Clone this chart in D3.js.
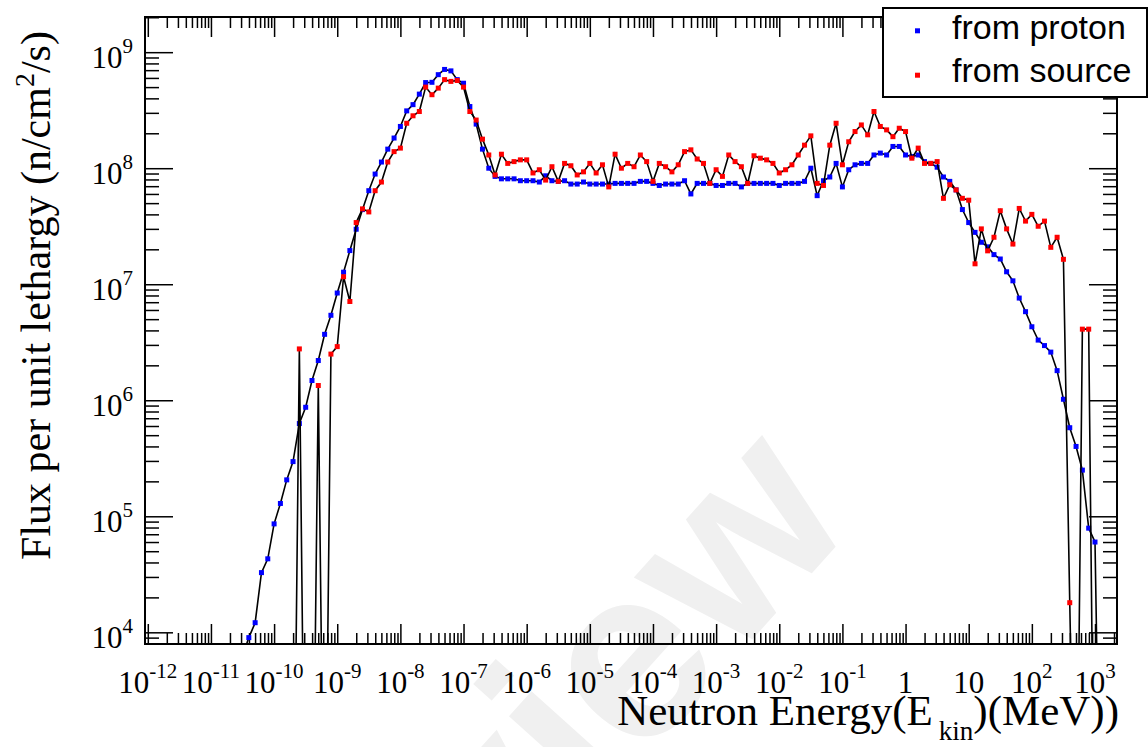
<!DOCTYPE html>
<html>
<head>
<meta charset="utf-8">
<script src="https://cdn.jsdelivr.net/npm/d3@7"></script>
<style>
  html, body { margin: 0; padding: 0; background: #fff; }
  svg { display: block; }
</style>
</head>
<body>
<div id="chart"></div>
<script>
// Neutron flux per unit lethargy, two sources, 10 bins per decade

// log10(E/MeV) of the first bin of each set, and the bin step
const protonLogStart = -10.5;
const sourceLogStart = -9.7;
const logStep = 0.1;

// from proton (blue), -10.5 ... 3.1
const fromProton = [
  6.3e3, 9.0e3, 1.21e4, 3.27e4, 4.3e4, 8.6e4, 1.29e5, 2.06e5, 2.96e5, 6.3e5,
  8.7e5, 1.48e6, 2.2e6, 3.7e6, 5.4e6, 8.4e6, 1.27e7, 1.95e7, 2.98e7, 4.4e7,
  6.4e7, 8.9e7, 1.13e8, 1.46e8, 1.82e8, 2.29e8, 3.12e8, 3.53e8, 4.35e8, 5.47e8,
  5.5e8, 6.4e8, 7.1e8, 6.9e8, 5.8e8, 5.4e8, 3.4e8, 2.4e8, 1.46e8, 1.0e8,
  8.5e7, 8.1e7, 8.1e7, 8.1e7, 7.8e7, 7.8e7, 7.8e7, 7.6e7, 8.6e7, 7.8e7,
  7.7e7, 7.8e7, 7.3e7, 7.3e7, 7.6e7, 7.3e7, 7.3e7, 7.3e7, 7.3e7, 7.4e7,
  7.4e7, 7.4e7, 7.4e7, 7.7e7, 7.7e7, 7.4e7, 7.1e7, 7.3e7, 7.3e7, 7.3e7,
  7.8e7, 6.0e7, 7.4e7, 7.4e7, 7.4e7, 7.1e7, 7.1e7, 7.4e7, 7.4e7, 6.9e7,
  7.4e7, 7.4e7, 7.4e7, 7.4e7, 7.4e7, 7.1e7, 7.4e7, 7.4e7, 7.4e7, 7.7e7,
  1.0e8, 5.8e7, 7.8e7, 8.4e7, 1.1e8, 6.9e7, 9.7e7, 1.07e8, 1.1e8, 1.1e8,
  1.3e8, 1.35e8, 1.3e8, 1.54e8, 1.54e8, 1.3e8, 1.26e8, 1.3e8, 1.14e8, 1.1e8,
  1.02e8, 8.4e7, 7.7e7, 6.5e7, 4.4e7, 3.4e7, 2.8e7, 2.3e7, 2.1e7, 1.8e7,
  1.65e7, 1.28e7, 1.07e7, 7.6e6, 5.8e6, 4.3e6, 3.3e6, 2.96e6, 2.6e6, 1.8e6,
  1.02e6, 5.8e5, 4.0e5, 2.5e5, 7.9e4, 6.0e4, 0
];

// from source (red), -9.7 ... 3.0
const fromSource = [
  0, 2.77e6, 0, 0, 1.34e6, 0, 2.5e6, 2.9e6, 1.16e7, 7.1e6,
  3.4e7, 4.46e7, 4.2e7, 6.4e7, 7.6e7, 1.13e8, 1.39e8, 1.49e8, 2.44e8, 2.83e8,
  3.08e8, 5.0e8, 4.3e8, 4.9e8, 5.8e8, 5.6e8, 5.7e8, 5.0e8, 3.08e8, 2.6e8,
  1.78e8, 1.3e8, 8.75e7, 1.32e8, 1.1e8, 1.14e8, 1.18e8, 1.18e8, 9.1e7, 9.7e7,
  7.9e7, 1.03e8, 7.7e7, 1.1e8, 1.05e8, 8.75e7, 9.3e7, 1.1e8, 9.1e7, 1.07e8,
  6.9e7, 1.32e8, 1.0e8, 1.1e8, 1.03e8, 1.3e8, 1.14e8, 7.7e7, 1.1e8, 1.03e8,
  9.3e7, 1.07e8, 1.39e8, 1.44e8, 1.2e8, 1.1e8, 7.4e7, 9.7e7, 8.5e7, 1.3e8,
  1.14e8, 1.03e8, 7.4e7, 1.28e8, 1.22e8, 1.18e8, 1.1e8, 9.1e7, 9.7e7, 1.07e8,
  1.3e8, 1.58e8, 1.9e8, 7.4e7, 7.1e7, 1.58e8, 2.44e8, 1.07e8, 1.69e8, 2.07e8,
  2.36e8, 1.94e8, 3.08e8, 2.29e8, 2.14e8, 1.87e8, 2.21e8, 2.07e8, 1.22e8, 1.49e8,
  1.1e8, 1.1e8, 1.14e8, 5.5e7, 7.2e7, 6.5e7, 5.5e7, 5.3e7, 1.5e7, 3.0e7,
  1.94e7, 2.54e7, 4.3e7, 3.0e7, 2.22e7, 4.5e7, 3.5e7, 4.0e7, 3.16e7, 3.5e7,
  2.08e7, 2.54e7, 1.64e7, 1.8e4, 0, 4.1e6, 4.1e6, 0
];

const seriesNames = ["from proton", "from source"];
const seriesColors = ["#0000ff", "#ff0000"];

// axis decades
const xTickExps = [-12, -11, -10, -9, -8, -7, -6, -5, -4, -3, -2, -1, 0, 1, 2, 3];
const yTickExps = [4, 5, 6, 7, 8, 9];

const xTitle = "Neutron Energy(E";
const xTitleSub = "kin";
const xTitleEnd = ")(MeV))";
const yTitle = "Flux per unit lethargy (n/cm";
const yTitleSup = "2";
const yTitleEnd = "/s)";

function drawChart() {
  const W = 1148, H = 747;
  const frame = { left: 145, top: 17, right: 1117, bottom: 644 };
  const serif = '"Liberation Serif", "Times New Roman", serif';
  const sans = '"Liberation Sans", Arial, sans-serif';
  const zeroFloor = 30; // empty bins fall off the bottom of the log axis

  const x = d3.scaleLog().domain([9.03e-13, 2.23e3]).range([frame.left, frame.right]);
  const y = d3.scaleLog().domain([7.93e3, 2.01e9]).range([frame.bottom, frame.top]);

  const svg = d3.select("#chart").append("svg")
    .attr("width", W)
    .attr("height", H)
    .attr("viewBox", [0, 0, W, H]);

  svg.append("rect").attr("width", W).attr("height", H).attr("fill", "#fff");

  // faint watermark behind everything
  svg.append("text")
    .attr("transform", "translate(858,522) rotate(-48)")
    .attr("text-anchor", "end")
    .attr("font-family", sans)
    .attr("font-weight", "bold")
    .attr("font-size", 245)
    .attr("fill", "#f0f0f0")
    .text("Preview");

  svg.append("clipPath").attr("id", "plot-clip")
    .append("rect")
    .attr("x", frame.left).attr("y", frame.top)
    .attr("width", frame.right - frame.left)
    .attr("height", frame.bottom - frame.top);

  // minor ticks 2..9 inside the domain
  function minorTicks(scale, exps) {
    const [lo, hi] = scale.domain();
    const out = [];
    exps.forEach(e => {
      for (let m = 2; m <= 9; m++) {
        const v = m * Math.pow(10, e);
        if (v >= lo && v <= hi) out.push(v);
      }
    });
    return out;
  }
  const xMajor = xTickExps.map(e => Math.pow(10, e));
  const yMajor = yTickExps.map(e => Math.pow(10, e));
  const xMinor = minorTicks(x, d3.range(-13, 4));
  const yMinor = minorTicks(y, d3.range(3, 10));

  function addAxis(axisFn, scale, values, size, transform) {
    svg.append("g")
      .attr("transform", transform)
      .call(axisFn(scale).tickValues(values).tickSize(size).tickFormat(""))
      .call(g => g.select(".domain").remove())
      .call(g => g.selectAll("text").remove())
      .selectAll("line")
      .attr("stroke", "#000")
      .attr("stroke-width", 1.5);
  }
  addAxis(d3.axisBottom, x, xMajor, -20, `translate(0,${frame.bottom})`);
  addAxis(d3.axisBottom, x, xMinor, -11, `translate(0,${frame.bottom})`);
  addAxis(d3.axisTop, x, xMajor, -20, `translate(0,${frame.top})`);
  addAxis(d3.axisTop, x, xMinor, -11, `translate(0,${frame.top})`);
  addAxis(d3.axisLeft, y, yMajor, -28, `translate(${frame.left},0)`);
  addAxis(d3.axisLeft, y, yMinor, -14, `translate(${frame.left},0)`);
  addAxis(d3.axisRight, y, yMajor, -28, `translate(${frame.right},0)`);
  addAxis(d3.axisRight, y, yMinor, -14, `translate(${frame.right},0)`);

  // tick labels
  const xLab = svg.append("g").attr("font-family", serif).attr("font-size", 31).attr("fill", "#000");
  xTickExps.forEach(e => {
    const t = xLab.append("text")
      .attr("x", x(Math.pow(10, e)))
      .attr("y", frame.bottom + 49)
      .attr("text-anchor", "middle");
    if (e === 0) t.text("1");
    else if (e === 1) t.text("10");
    else {
      t.append("tspan").text("10");
      t.append("tspan").attr("font-size", 21).attr("dy", -15).text(e);
    }
  });

  const yLab = svg.append("g").attr("font-family", serif).attr("font-size", 31).attr("fill", "#000");
  yTickExps.forEach(e => {
    const t = yLab.append("text")
      .attr("x", frame.left - 12)
      .attr("y", y(Math.pow(10, e)) + 16)
      .attr("text-anchor", "end");
    t.append("tspan").text("10");
    t.append("tspan").attr("font-size", 21).attr("dy", -15).text(e);
  });

  // axis titles
  const xt = svg.append("text")
    .attr("x", frame.right + 2)
    .attr("y", 725)
    .attr("text-anchor", "end")
    .attr("font-family", serif)
    .attr("font-size", 43);
  xt.append("tspan").text(xTitle);
  xt.append("tspan").attr("font-size", 27).attr("dx", 6).attr("dy", 15).text(xTitleSub);
  xt.append("tspan").attr("dy", -15).text(xTitleEnd);

  const yt = svg.append("text")
    .attr("transform", `translate(50,${(frame.top + frame.bottom) / 2 - 35}) rotate(-90)`)
    .attr("text-anchor", "middle")
    .attr("font-family", serif)
    .attr("font-size", 42);
  yt.append("tspan").text(yTitle);
  yt.append("tspan").attr("font-size", 28).attr("dy", -16).text(yTitleSup);
  yt.append("tspan").attr("dy", 16).text(yTitleEnd);

  // data
  const series = [fromProton, fromSource].map((values, i) => {
    const start = i === 0 ? protonLogStart : sourceLogStart;
    return {
      name: seriesNames[i],
      color: seriesColors[i],
      points: values.map((v, k) => ({ e: Math.pow(10, start + k * logStep), v }))
    };
  });

  const yv = d => y(d.v > 0 ? d.v : zeroFloor);
  const line = d3.line().x(d => x(d.e)).y(yv);

  const plot = svg.append("g").attr("clip-path", "url(#plot-clip)");
  const ms = 5;
  series.forEach(s => {
    plot.append("path")
      .datum(s.points)
      .attr("fill", "none")
      .attr("stroke", "#000")
      .attr("stroke-width", 1.6)
      .attr("stroke-linejoin", "miter")
      .attr("d", line);
    plot.append("g")
      .selectAll("rect")
      .data(s.points.filter(d => d.v > 0))
      .join("rect")
      .attr("x", d => x(d.e) - ms / 2)
      .attr("y", d => yv(d) - ms / 2)
      .attr("width", ms)
      .attr("height", ms)
      .attr("fill", s.color);
  });

  // frame
  svg.append("rect")
    .attr("x", frame.left).attr("y", frame.top)
    .attr("width", frame.right - frame.left)
    .attr("height", frame.bottom - frame.top)
    .attr("fill", "none")
    .attr("stroke", "#000")
    .attr("stroke-width", 2);

  // legend
  const legend = svg.append("g");
  legend.append("rect")
    .attr("x", 883).attr("y", 8)
    .attr("width", 264).attr("height", 89)
    .attr("fill", "#fff")
    .attr("stroke", "#000")
    .attr("stroke-width", 2);
  series.forEach((s, i) => {
    legend.append("rect")
      .attr("x", 915).attr("y", 28.3 + i * 44.4)
      .attr("width", 5).attr("height", 5)
      .attr("fill", s.color);
    legend.append("text")
      .attr("x", 952).attr("y", 39.3 + i * 42.4)
      .attr("font-family", sans)
      .attr("font-size", 34)
      .text(s.name);
  });
}

if (document.readyState === 'loading') {
  document.addEventListener('DOMContentLoaded', drawChart);
} else {
  drawChart();
}
</script>
</body>
</html>
